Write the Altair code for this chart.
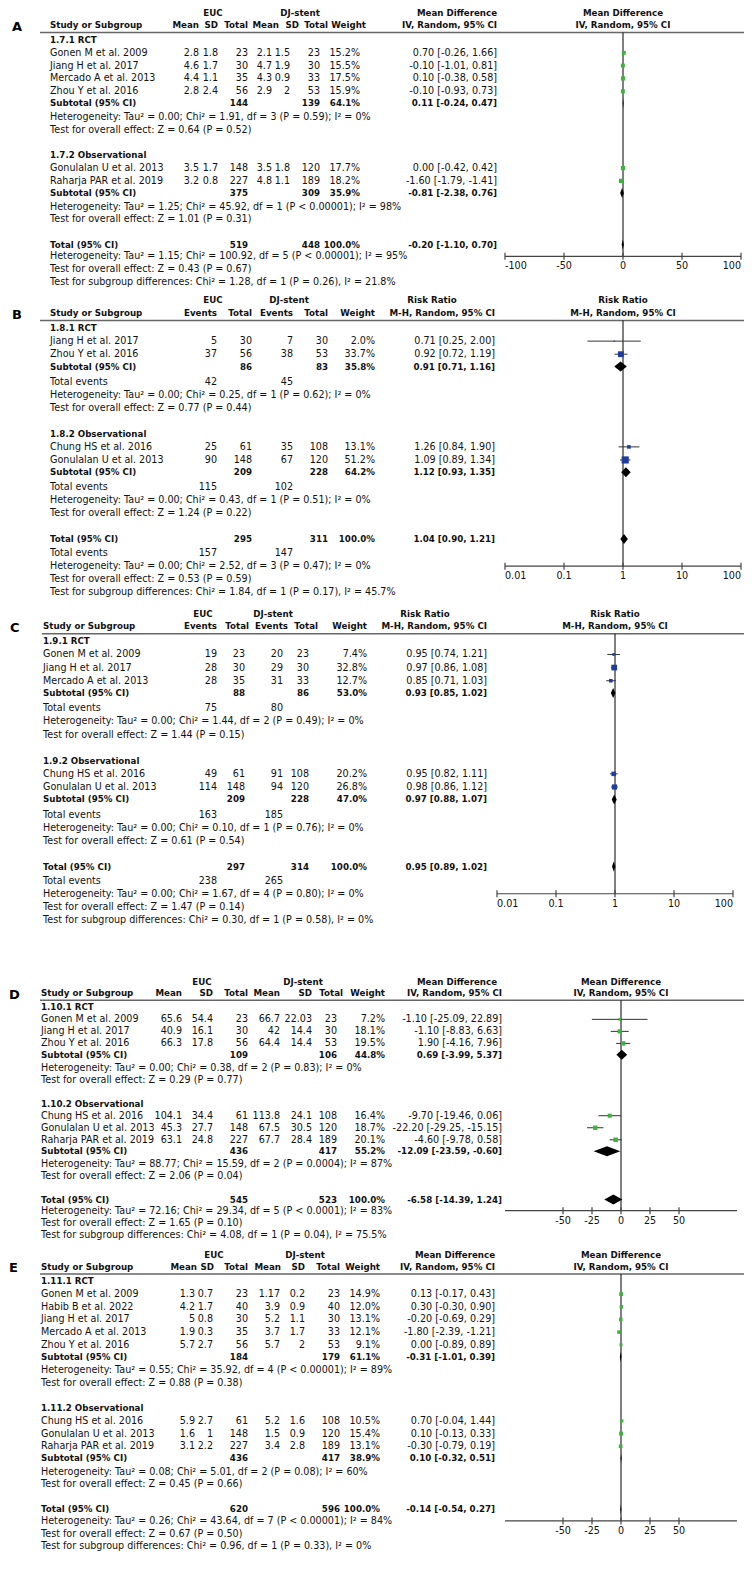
import altair as alt
import pandas as pd

FONT = "DejaVu Sans"
FS = 9.6
FSB = 8.7
TOTAL_H = 1544
F = TOTAL_H / 1568
W = 736
GREEN = "#3cb43c"
BLUE = "#1f3d9a"

# ================= Panel A : Mean Difference =================
A_groups = ["1.7.1 RCT", "1.7.2 Observational"]
A_studies = [["Gonen M et al. 2009", "Jiang H et al. 2017", "Mercado A et al. 2013", "Zhou Y et al. 2016"],
             ["Gonulalan U et al. 2013", "Raharja PAR et al. 2019"]]
A_euc_mean = [[2.8, 4.6, 4.4, 2.8], [3.5, 3.2]]
A_euc_sd = [[1.8, 1.7, 1.1, 2.4], [1.7, 0.8]]
A_euc_n = [[23, 30, 35, 56], [148, 227]]
A_dj_mean = [[2.1, 4.7, 4.3, 2.9], [3.5, 4.8]]
A_dj_sd = [[1.5, 1.9, 0.9, 2], [1.8, 1.1]]
A_dj_n = [[23, 30, 33, 53], [120, 189]]
A_weight = [[15.2, 15.5, 17.5, 15.9], [17.7, 18.2]]
A_est = [[0.70, -0.10, 0.10, -0.10], [0.00, -1.60]]
A_lo = [[-0.26, -1.01, -0.38, -0.93], [-0.42, -1.79]]
A_hi = [[1.66, 0.81, 0.58, 0.73], [0.42, -1.41]]
A_sub_n1 = [144, 375]
A_sub_n2 = [139, 309]
A_sub_w = [64.1, 35.9]
A_sub_est = [0.11, -0.81]
A_sub_lo = [-0.24, -2.38]
A_sub_hi = [0.47, 0.76]
A_sub_het = ["Heterogeneity: Tau² = 0.00; Chi² = 1.91, df = 3 (P = 0.59); I² = 0%",
             "Heterogeneity: Tau² = 1.25; Chi² = 45.92, df = 1 (P < 0.00001); I² = 98%"]
A_sub_test = ["Test for overall effect: Z = 0.64 (P = 0.52)", "Test for overall effect: Z = 1.01 (P = 0.31)"]
A_tot = [519, 448, -0.20, -1.10, 0.70]
A_tot_het = "Heterogeneity: Tau² = 1.15; Chi² = 100.92, df = 5 (P < 0.00001); I² = 95%"
A_tot_test = "Test for overall effect: Z = 0.43 (P = 0.67)"
A_subgroup = "Test for subgroup differences: Chi² = 1.28, df = 1 (P = 0.26), I² = 21.8%"

# ================= Panel B : Risk Ratio =================
B_groups = ["1.8.1 RCT", "1.8.2 Observational"]
B_studies = [["Jiang H et al. 2017", "Zhou Y et al. 2016"], ["Chung HS et al. 2016", "Gonulalan U et al. 2013"]]
B_euc_ev = [[5, 37], [25, 90]]
B_euc_n = [[30, 56], [61, 148]]
B_dj_ev = [[7, 38], [35, 67]]
B_dj_n = [[30, 53], [108, 120]]
B_weight = [[2.0, 33.7], [13.1, 51.2]]
B_est = [[0.71, 0.92], [1.26, 1.09]]
B_lo = [[0.25, 0.72], [0.84, 0.89]]
B_hi = [[2.00, 1.19], [1.90, 1.34]]
B_sub_n1 = [86, 209]
B_sub_n2 = [83, 228]
B_sub_w = [35.8, 64.2]
B_sub_est = [0.91, 1.12]
B_sub_lo = [0.71, 0.93]
B_sub_hi = [1.16, 1.35]
B_sub_ev1 = [42, 115]
B_sub_ev2 = [45, 102]
B_sub_het = ["Heterogeneity: Tau² = 0.00; Chi² = 0.25, df = 1 (P = 0.62); I² = 0%",
             "Heterogeneity: Tau² = 0.00; Chi² = 0.43, df = 1 (P = 0.51); I² = 0%"]
B_sub_test = ["Test for overall effect: Z = 0.77 (P = 0.44)", "Test for overall effect: Z = 1.24 (P = 0.22)"]
B_tot = [295, 311, 1.04, 0.90, 1.21]
B_tot_ev = [157, 147]
B_tot_het = "Heterogeneity: Tau² = 0.00; Chi² = 2.52, df = 3 (P = 0.47); I² = 0%"
B_tot_test = "Test for overall effect: Z = 0.53 (P = 0.59)"
B_subgroup = "Test for subgroup differences: Chi² = 1.84, df = 1 (P = 0.17), I² = 45.7%"

# ================= Panel C : Risk Ratio =================
C_groups = ["1.9.1 RCT", "1.9.2 Observational"]
C_studies = [["Gonen M et al. 2009", "Jiang H et al. 2017", "Mercado A et al. 2013"],
             ["Chung HS et al. 2016", "Gonulalan U et al. 2013"]]
C_euc_ev = [[19, 28, 28], [49, 114]]
C_euc_n = [[23, 30, 35], [61, 148]]
C_dj_ev = [[20, 29, 31], [91, 94]]
C_dj_n = [[23, 30, 33], [108, 120]]
C_weight = [[7.4, 32.8, 12.7], [20.2, 26.8]]
C_est = [[0.95, 0.97, 0.85], [0.95, 0.98]]
C_lo = [[0.74, 0.86, 0.71], [0.82, 0.86]]
C_hi = [[1.21, 1.08, 1.03], [1.11, 1.12]]
C_sub_n1 = [88, 209]
C_sub_n2 = [86, 228]
C_sub_w = [53.0, 47.0]
C_sub_est = [0.93, 0.97]
C_sub_lo = [0.85, 0.88]
C_sub_hi = [1.02, 1.07]
C_sub_ev1 = [75, 163]
C_sub_ev2 = [80, 185]
C_sub_het = ["Heterogeneity: Tau² = 0.00; Chi² = 1.44, df = 2 (P = 0.49); I² = 0%",
             "Heterogeneity: Tau² = 0.00; Chi² = 0.10, df = 1 (P = 0.76); I² = 0%"]
C_sub_test = ["Test for overall effect: Z = 1.44 (P = 0.15)", "Test for overall effect: Z = 0.61 (P = 0.54)"]
C_tot = [297, 314, 0.95, 0.89, 1.02]
C_tot_ev = [238, 265]
C_tot_het = "Heterogeneity: Tau² = 0.00; Chi² = 1.67, df = 4 (P = 0.80); I² = 0%"
C_tot_test = "Test for overall effect: Z = 1.47 (P = 0.14)"
C_subgroup = "Test for subgroup differences: Chi² = 0.30, df = 1 (P = 0.58), I² = 0%"

# ================= Panel D : Mean Difference =================
D_groups = ["1.10.1 RCT", "1.10.2 Observational"]
D_studies = [["Gonen M et al. 2009", "Jiang H et al. 2017", "Zhou Y et al. 2016"],
             ["Chung HS et al. 2016", "Gonulalan U et al. 2013", "Raharja PAR et al. 2019"]]
D_euc_mean = [[65.6, 40.9, 66.3], [104.1, 45.3, 63.1]]
D_euc_sd = [[54.4, 16.1, 17.8], [34.4, 27.7, 24.8]]
D_euc_n = [[23, 30, 56], [61, 148, 227]]
D_dj_mean = [[66.7, 42, 64.4], [113.8, 67.5, 67.7]]
D_dj_sd = [[22.03, 14.4, 14.4], [24.1, 30.5, 28.4]]
D_dj_n = [[23, 30, 53], [108, 120, 189]]
D_weight = [[7.2, 18.1, 19.5], [16.4, 18.7, 20.1]]
D_est = [[-1.10, -1.10, 1.90], [-9.70, -22.20, -4.60]]
D_lo = [[-25.09, -8.83, -4.16], [-19.46, -29.25, -9.78]]
D_hi = [[22.89, 6.63, 7.96], [0.06, -15.15, 0.58]]
D_sub_n1 = [109, 436]
D_sub_n2 = [106, 417]
D_sub_w = [44.8, 55.2]
D_sub_est = [0.69, -12.09]
D_sub_lo = [-3.99, -23.59]
D_sub_hi = [5.37, -0.60]
D_sub_het = ["Heterogeneity: Tau² = 0.00; Chi² = 0.38, df = 2 (P = 0.83); I² = 0%",
             "Heterogeneity: Tau² = 88.77; Chi² = 15.59, df = 2 (P = 0.0004); I² = 87%"]
D_sub_test = ["Test for overall effect: Z = 0.29 (P = 0.77)", "Test for overall effect: Z = 2.06 (P = 0.04)"]
D_tot = [545, 523, -6.58, -14.39, 1.24]
D_tot_het = "Heterogeneity: Tau² = 72.16; Chi² = 29.34, df = 5 (P < 0.0001); I² = 83%"
D_tot_test = "Test for overall effect: Z = 1.65 (P = 0.10)"
D_subgroup = "Test for subgroup differences: Chi² = 4.08, df = 1 (P = 0.04), I² = 75.5%"

# ================= Panel E : Mean Difference =================
E_groups = ["1.11.1 RCT", "1.11.2 Observational"]
E_studies = [["Gonen M et al. 2009", "Habib B et al. 2022", "Jiang H et al. 2017", "Mercado A et al. 2013",
              "Zhou Y et al. 2016"],
             ["Chung HS et al. 2016", "Gonulalan U et al. 2013", "Raharja PAR et al. 2019"]]
E_euc_mean = [[1.3, 4.2, 5, 1.9, 5.7], [5.9, 1.6, 3.1]]
E_euc_sd = [[0.7, 1.7, 0.8, 0.3, 2.7], [2.7, 1, 2.2]]
E_euc_n = [[23, 40, 30, 35, 56], [61, 148, 227]]
E_dj_mean = [[1.17, 3.9, 5.2, 3.7, 5.7], [5.2, 1.5, 3.4]]
E_dj_sd = [[0.2, 0.9, 1.1, 1.7, 2], [1.6, 0.9, 2.8]]
E_dj_n = [[23, 40, 30, 33, 53], [108, 120, 189]]
E_weight = [[14.9, 12.0, 13.1, 12.1, 9.1], [10.5, 15.4, 13.1]]
E_est = [[0.13, 0.30, -0.20, -1.80, 0.00], [0.70, 0.10, -0.30]]
E_lo = [[-0.17, -0.30, -0.69, -2.39, -0.89], [-0.04, -0.13, -0.79]]
E_hi = [[0.43, 0.90, 0.29, -1.21, 0.89], [1.44, 0.33, 0.19]]
E_sub_n1 = [184, 436]
E_sub_n2 = [179, 417]
E_sub_w = [61.1, 38.9]
E_sub_est = [-0.31, 0.10]
E_sub_lo = [-1.01, -0.32]
E_sub_hi = [0.39, 0.51]
E_sub_het = ["Heterogeneity: Tau² = 0.55; Chi² = 35.92, df = 4 (P < 0.00001); I² = 89%",
             "Heterogeneity: Tau² = 0.08; Chi² = 5.01, df = 2 (P = 0.08); I² = 60%"]
E_sub_test = ["Test for overall effect: Z = 0.88 (P = 0.38)", "Test for overall effect: Z = 0.45 (P = 0.66)"]
E_tot = [620, 596, -0.14, -0.54, 0.27]
E_tot_het = "Heterogeneity: Tau² = 0.26; Chi² = 43.64, df = 7 (P < 0.00001); I² = 84%"
E_tot_test = "Test for overall effect: Z = 0.67 (P = 0.50)"
E_subgroup = "Test for subgroup differences: Chi² = 0.96, df = 1 (P = 0.33), I² = 0%"

MD_HEADS = ["Mean", "SD", "Total", "Mean", "SD", "Total", "Weight", "IV, Random, 95% CI"]
RR_HEADS = ["Events", "Total", "Events", "Total", "Weight", "M-H, Random, 95% CI"]
MD_TICKS_A = [-100, -50, 0, 50, 100]
MD_TICKS_DE = [-50, -25, 0, 25, 50]
RR_TICKS = [0.01, 0.1, 1, 10, 100]


def fg(v):
    return f"{v:g}"


def fe(e, lo, hi):
    return f"{e:.2f} [{lo:.2f}, {hi:.2f}]"


def md_panel(letter, groups, studies, m1, s1, n1, m2, s2, n2, w, est, lo, hi,
             sn1, sn2, sw, sest, slo, shi, shet, stest, tot, thet, ttest, tsub, ticks):
    rows = []
    for g in range(len(groups)):
        rows.append(("group", groups[g]))
        for i, name in enumerate(studies[g]):
            rows.append(("study", name,
                         [fg(m1[g][i]), fg(s1[g][i]), str(n1[g][i]), fg(m2[g][i]), fg(s2[g][i]), str(n2[g][i]),
                          f"{w[g][i]:.1f}%", fe(est[g][i], lo[g][i], hi[g][i])],
                         (est[g][i], lo[g][i], hi[g][i], w[g][i])))
        rows.append(("sub", "Subtotal (95% CI)",
                     {2: str(sn1[g]), 5: str(sn2[g]), 6: f"{sw[g]:.1f}%", 7: fe(sest[g], slo[g], shi[g])},
                     (sest[g], slo[g], shi[g])))
        rows.append(("het", shet[g]))
        rows.append(("test", stest[g]))
    rows.append(("total", "Total (95% CI)",
                 {2: str(tot[0]), 5: str(tot[1]), 6: "100.0%", 7: fe(tot[2], tot[3], tot[4])},
                 (tot[2], tot[3], tot[4])))
    rows.append(("thet", thet))
    rows.append(("test", ttest))
    rows.append(("test", tsub))
    return dict(letter=letter, rows=rows, heads=MD_HEADS, measure="Mean Difference",
                xtype="linear", domain=[-100, 100], ticks=ticks, null=0, color=GREEN,
                method="IV, Random, 95% CI")


def rr_panel(letter, groups, studies, e1, n1, e2, n2, w, est, lo, hi,
             sn1, sn2, sw, sest, slo, shi, sev1, sev2, shet, stest, tot, tev, thet, ttest, tsub):
    rows = []
    for g in range(len(groups)):
        rows.append(("group", groups[g]))
        for i, name in enumerate(studies[g]):
            rows.append(("study", name,
                         [str(e1[g][i]), str(n1[g][i]), str(e2[g][i]), str(n2[g][i]),
                          f"{w[g][i]:.1f}%", fe(est[g][i], lo[g][i], hi[g][i])],
                         (est[g][i], lo[g][i], hi[g][i], w[g][i])))
        rows.append(("sub", "Subtotal (95% CI)",
                     {1: str(sn1[g]), 3: str(sn2[g]), 4: f"{sw[g]:.1f}%", 5: fe(sest[g], slo[g], shi[g])},
                     (sest[g], slo[g], shi[g])))
        rows.append(("events", "Total events", {0: str(sev1[g]), 2: str(sev2[g])}))
        rows.append(("het", shet[g]))
        rows.append(("test", stest[g]))
    rows.append(("total", "Total (95% CI)",
                 {1: str(tot[0]), 3: str(tot[1]), 4: "100.0%", 5: fe(tot[2], tot[3], tot[4])},
                 (tot[2], tot[3], tot[4])))
    rows.append(("events", "Total events", {0: str(tev[0]), 2: str(tev[1])}))
    rows.append(("thet", thet))
    rows.append(("test", ttest))
    rows.append(("test", tsub))
    return dict(letter=letter, rows=rows, heads=RR_HEADS, measure="Risk Ratio",
                xtype="log", domain=[0.01, 100], ticks=RR_TICKS, null=1, color=BLUE,
                method="M-H, Random, 95% CI")


PANELS = [
    md_panel("A", A_groups, A_studies, A_euc_mean, A_euc_sd, A_euc_n, A_dj_mean, A_dj_sd, A_dj_n, A_weight,
             A_est, A_lo, A_hi, A_sub_n1, A_sub_n2, A_sub_w, A_sub_est, A_sub_lo, A_sub_hi, A_sub_het,
             A_sub_test, A_tot, A_tot_het, A_tot_test, A_subgroup, MD_TICKS_A),
    rr_panel("B", B_groups, B_studies, B_euc_ev, B_euc_n, B_dj_ev, B_dj_n, B_weight, B_est, B_lo, B_hi,
             B_sub_n1, B_sub_n2, B_sub_w, B_sub_est, B_sub_lo, B_sub_hi, B_sub_ev1, B_sub_ev2, B_sub_het,
             B_sub_test, B_tot, B_tot_ev, B_tot_het, B_tot_test, B_subgroup),
    rr_panel("C", C_groups, C_studies, C_euc_ev, C_euc_n, C_dj_ev, C_dj_n, C_weight, C_est, C_lo, C_hi,
             C_sub_n1, C_sub_n2, C_sub_w, C_sub_est, C_sub_lo, C_sub_hi, C_sub_ev1, C_sub_ev2, C_sub_het,
             C_sub_test, C_tot, C_tot_ev, C_tot_het, C_tot_test, C_subgroup),
    md_panel("D", D_groups, D_studies, D_euc_mean, D_euc_sd, D_euc_n, D_dj_mean, D_dj_sd, D_dj_n, D_weight,
             D_est, D_lo, D_hi, D_sub_n1, D_sub_n2, D_sub_w, D_sub_est, D_sub_lo, D_sub_hi, D_sub_het,
             D_sub_test, D_tot, D_tot_het, D_tot_test, D_subgroup, MD_TICKS_DE),
    md_panel("E", E_groups, E_studies, E_euc_mean, E_euc_sd, E_euc_n, E_dj_mean, E_dj_sd, E_dj_n, E_weight,
             E_est, E_lo, E_hi, E_sub_n1, E_sub_n2, E_sub_w, E_sub_est, E_sub_lo, E_sub_hi, E_sub_het,
             E_sub_test, E_tot, E_tot_het, E_tot_test, E_subgroup, MD_TICKS_DE),
]

# ---------------- layout (page pixels of the reference) ----------------
LAYOUT = [
    dict(euc=5, s=1.0, gap=26, name=50, rule_x=40, letter_x=12,
         cols=[199, 218, 248, 272, 290, 320, 360, 497],
         heads=[199, 218, 248, 279, 299, 328, 366, 497], h_euc=213, h_dj=300, h_eff=457, forest=[505, 741]),
    dict(euc=297, s=1.02, gap=26, name=50, rule_x=40, letter_x=12,
         cols=[217, 252, 293, 328, 375, 495],
         heads=[217, 252, 293, 328, 375, 495], h_euc=213, h_dj=289, h_eff=432, forest=[505, 741]),
    dict(euc=615, s=1.025, gap=26, name=43, rule_x=42, letter_x=10,
         cols=[217, 245, 283, 309, 367, 487],
         heads=[217, 249, 288, 318, 367, 487], h_euc=203, h_dj=273, h_eff=425, forest=[497, 733]),
    dict(euc=989, s=0.94, gap=26, name=41, rule_x=40, letter_x=9,
         cols=[182, 213, 248, 280, 312, 337, 385, 502],
         heads=[182, 213, 248, 280, 312, 343, 385, 502], h_euc=202, h_dj=303, h_eff=457, forest=[505, 737]),
    dict(euc=1266, s=0.99, gap=26, name=41, rule_x=40, letter_x=9,
         cols=[195, 213, 248, 280, 305, 340, 380, 495],
         heads=[197, 214, 248, 281, 305, 340, 380, 495], h_euc=214, h_dj=305, h_eff=455, forest=[505, 737]),
]

YSC = alt.Scale(domain=[0, TOTAL_H], range=[0, TOTAL_H], nice=False, zero=False)
YENC = alt.Y("y:Q", scale=YSC, axis=None)


def build(P, L):
    T, SQ, CI, DI = [], [], [], []
    euc, s = L["euc"], L["s"]

    def Y(off):
        return round((euc + off * s) * F, 2)

    def X(px):
        return float(px - 8)

    def add(off, px, t, align="right", bold=False, size=None, color="#111"):
        if size is None:
            size = FSB if bold else FS
        T.append(dict(y=Y(off), x=X(px), t=t, align=align, bold=bold, size=size, color=color))

    cols = L["cols"]
    fc = (L["forest"][0] + L["forest"][1]) / 2
    add(0, L["h_euc"], "EUC", "center", True)
    add(0, L["h_dj"], "DJ-stent", "center", True)
    add(0, L["h_eff"], P["measure"], "center", True)
    add(0, fc, P["measure"], "center", True)
    add(12.5, L["name"], "Study or Subgroup", "left", True)
    for px, h in zip(L["heads"], P["heads"]):
        add(12.5, px, h, "right", True)
    add(12.5, fc, P["method"], "center", True)
    add(14, L["letter_x"], P["letter"], "left", True, 13, "#000")

    rule_off = 20.0
    off = 27.5
    axis_off = None
    prev = None
    for r in P["rows"]:
        kind = r[0]
        if kind == "group":
            if prev is not None:
                off += L["gap"]
        elif kind == "study":
            off += 13
        elif kind == "sub":
            off += 12.3
        elif kind == "events":
            off += 15 if prev == "sub" else 14
        elif kind == "het":
            off += 13 if prev == "events" else 13.8
        elif kind == "test":
            off += 13
        elif kind == "total":
            off += 25.5
        elif kind == "thet":
            off += 13 if prev == "events" else 12
            axis_off = off
        prev = kind

        if kind == "group":
            add(off, L["name"], r[1], "left", True)
        elif kind == "study":
            add(off, L["name"], r[1], "left")
            for px, v in zip(cols, r[2]):
                add(off, px, v)
            e, lo, hi, w = r[3]
            SQ.append(dict(y=Y(off), est=e, w=w))
            CI.append(dict(y=Y(off), lo=lo, hi=hi))
        elif kind in ("sub", "total"):
            add(off, L["name"], r[1], "left", True)
            for k, v in r[2].items():
                add(off, cols[k], v, "right", True)
            e, lo, hi = r[3]
            h = 5.0
            yc = Y(off)
            i = len(DI)
            DI += [dict(id=i, x=lo, y=yc, y2=yc), dict(id=i, x=e, y=yc - h, y2=yc + h),
                   dict(id=i, x=hi, y=yc, y2=yc)]
        elif kind == "events":
            add(off, L["name"], r[1], "left")
            for k, v in r[2].items():
                add(off, cols[k], v)
        else:
            add(off, L["name"], r[1], "left")

    xsc = alt.Scale(type=P["xtype"], domain=P["domain"], range=[X(L["forest"][0]), X(L["forest"][1])],
                    nice=False)
    ax_y = Y(axis_off)

    layers = []
    tdf = pd.DataFrame(T)
    for (x, align, bold, size, color), g in tdf.groupby(["x", "align", "bold", "size", "color"]):
        layers.append(
            alt.Chart(g[["y", "t"]].reset_index(drop=True)).mark_text(
                align=align, baseline="middle", font=FONT, fontSize=float(size),
                fontWeight="bold" if bold else "normal", color=color
            ).encode(x=alt.value(float(x)), y=YENC, text="t:N")
        )
    # header rule
    layers.append(
        alt.Chart(pd.DataFrame({"y": [Y(rule_off)]})).mark_rule(color="#666", strokeWidth=1.5)
        .encode(x=alt.value(X(L["rule_x"])), x2=alt.value(W), y=YENC)
    )
    # line of no effect
    layers.append(
        alt.Chart(pd.DataFrame({"v": [P["null"]], "y": [Y(rule_off)], "y2": [ax_y]}))
        .mark_rule(color="#000", strokeWidth=1)
        .encode(x=alt.X("v:Q", scale=xsc, axis=None), y=YENC, y2="y2:Q")
    )
    # axis: domain line, ticks, labels (placed through the x scale)
    dmin, dmax = P["domain"]
    layers.append(
        alt.Chart(pd.DataFrame({"a": [dmin], "b": [dmax], "y": [ax_y]}))
        .mark_rule(color="#444", strokeWidth=1.2)
        .encode(x=alt.X("a:Q", scale=xsc, axis=None), x2="b:Q", y=YENC)
    )
    n = len(P["ticks"])
    tk = pd.DataFrame({"v": P["ticks"], "y": [ax_y - 3.5] * n, "y2": [ax_y + 3.5] * n})
    layers.append(
        alt.Chart(tk).mark_rule(color="#444", strokeWidth=1.2)
        .encode(x=alt.X("v:Q", scale=xsc, axis=None), y=YENC, y2="y2:Q")
    )
    labs = []
    for t in P["ticks"]:
        al = "left" if t == dmin else ("right" if t == dmax else "center")
        labs.append(dict(v=t, y=ax_y + 10, lab=fg(t), al=al))
    ldf = pd.DataFrame(labs)
    for al, g in ldf.groupby("al"):
        layers.append(
            alt.Chart(g.reset_index(drop=True)).mark_text(
                align=al, baseline="middle", font=FONT, fontSize=FS, color="#111"
            ).encode(x=alt.X("v:Q", scale=xsc, axis=None), y=YENC, text="lab:N")
        )
    # confidence intervals
    layers.append(
        alt.Chart(pd.DataFrame(CI)).mark_rule(color="#333", strokeWidth=1)
        .encode(x=alt.X("lo:Q", scale=xsc, axis=None), x2="hi:Q", y=YENC)
    )
    # study squares (area proportional to weight)
    layers.append(
        alt.Chart(pd.DataFrame(SQ)).mark_square(color=P["color"], opacity=1)
        .encode(x=alt.X("est:Q", scale=xsc, axis=None), y=YENC,
                size=alt.Size("w:Q", scale=alt.Scale(domain=[0, 100], range=[0, 100]), legend=None))
    )
    # pooled diamonds
    layers.append(
        alt.Chart(pd.DataFrame(DI)).mark_area(color="#000", orient="vertical")
        .encode(x=alt.X("x:Q", scale=xsc, axis=None), y=YENC, y2="y2:Q", detail="id:N")
    )
    return alt.layer(*layers)


panels = [build(P, L) for P, L in zip(PANELS, LAYOUT)]
chart = (
    alt.layer(*panels)
    .resolve_scale(x="independent", size="independent")
    .properties(width=W, height=TOTAL_H, padding=0, autosize=alt.AutoSizeParams(type="none"))
    .configure_view(strokeWidth=0)
)
chart.save("out.html", embed_options={"renderer": "svg", "actions": False})
